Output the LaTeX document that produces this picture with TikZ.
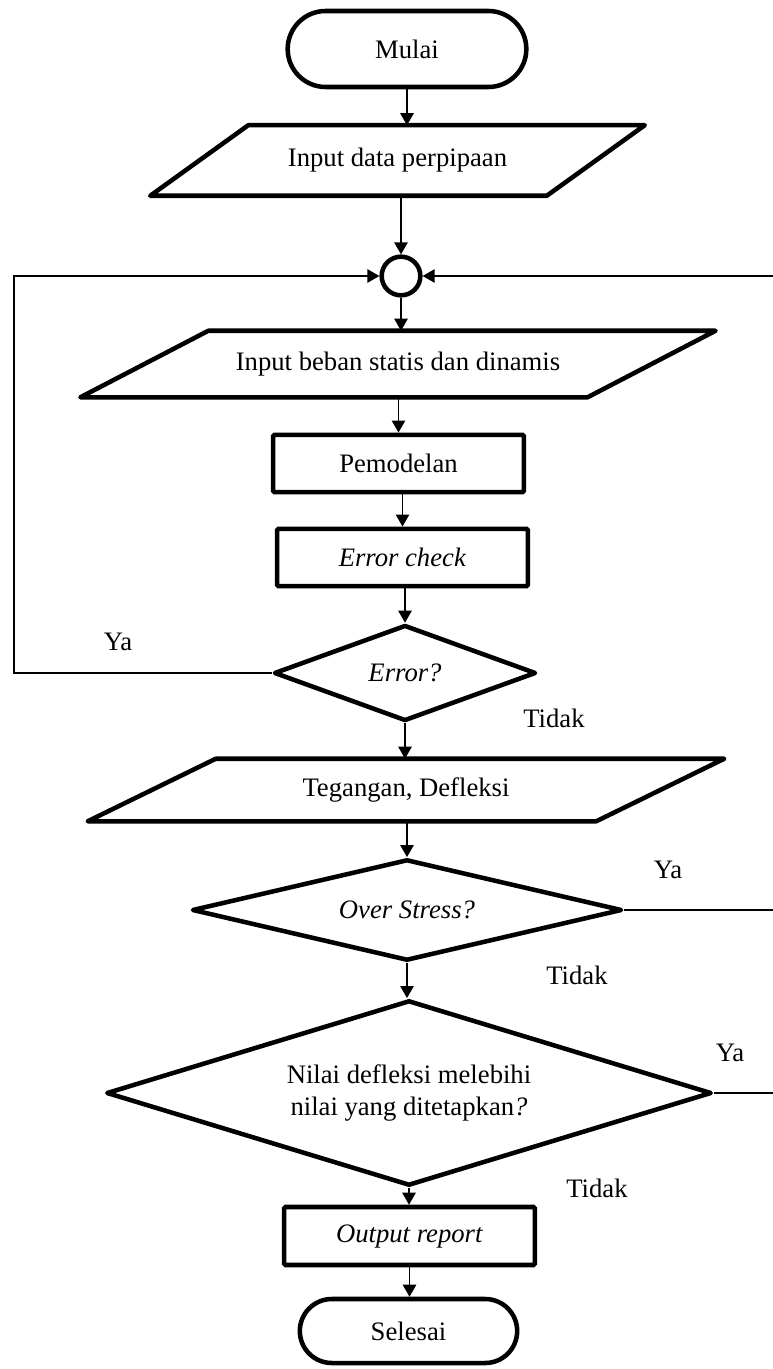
\documentclass[tikz,border=0pt]{standalone}
\usepackage{fontspec}
\setmainfont{Liberation Serif}
\usetikzlibrary{shapes.geometric,shapes.misc,arrows.meta,calc}

\begin{document}
\begin{tikzpicture}[x=0.75pt,y=-0.75pt,
  every node/.style={font=\fontsize{20}{24}\selectfont},
  term/.style={draw,line width=3.4pt,rounded rectangle,inner sep=0pt},
  proc/.style={draw,line width=3.4pt,rectangle,inner sep=0pt,rounded corners=1pt},
  dec/.style={draw,line width=3.4pt,diamond,inner sep=0pt,line join=round},
  io/.style={rectangle,inner sep=0pt},
  link/.style={line width=1.2pt},
  flow/.style={link,-{Triangle[length=9pt,width=10pt]}}]
\useasboundingbox (0,0) rectangle (773,1369);
%\draw[red] (0,0) rectangle (773,1369);
\node[term,minimum width=179pt,minimum height=57pt] (mulai) at (407,49) {Mulai};
\node[io,minimum width=297pt,minimum height=52.5pt] (in1) at (397.5,160.5) {Input data perpipaan};
\node[draw,circle,line width=3.4pt,minimum size=29pt,inner sep=0pt] (jn) at (401,276) {};
\node[io,minimum width=380pt,minimum height=49.5pt] (in2) at (398,364) {Input beban statis dan dinamis};
\node[proc,minimum width=188pt,minimum height=43pt] (pem) at (398.5,463.5) {Pemodelan};
\node[proc,minimum width=188pt,minimum height=43pt] (chk) at (402.5,557.5) {\textit{Error check}};
\node[dec,aspect=2.73,minimum width=196.5pt,minimum height=72pt] (err) at (405,673) {\textit{Error?}};
\node[io,minimum width=381pt,minimum height=46.5pt] (in3) at (406,790) {Tegangan, Defleksi};
\node[dec,aspect=4.26,minimum width=322.5pt,minimum height=76pt] (ovs) at (407,910) {\textit{Over Stress?}};
\node[dec,aspect=3.27,minimum width=454pt,minimum height=139pt,align=center] (nil) at (409,1093)
  {Nilai defleksi melebihi\\nilai yang ditetapkan\textit{?}};
\node[proc,minimum width=188pt,minimum height=43.5pt] (outp) at (409.5,1236) {\textit{Output report}};
\node[term,minimum width=163pt,minimum height=48pt] (selesai) at (408.5,1331) {Selesai};
% parallelogram outlines
\foreach \n/\s in {in1/49,in2/64,in3/64}
  \draw[line width=3.4pt,line join=round] ($(\n.north west)+(\s,0)$) -- ($(\n.north east)+(\s,0)$)
    -- ($(\n.south east)-(\s,0)$) -- ($(\n.south west)-(\s,0)$) -- cycle;
% main flow
\draw[flow] (mulai.south) -- (mulai.south |- in1.north);
\draw[flow] (in1.south -| jn) -- (jn.north);
\draw[flow] (jn.south) -- (jn.south |- in2.north);
\draw[flow] (in2.south -| pem) -- (pem.north);
\draw[flow] (pem.south -| chk) -- (chk.north);
\draw[flow] (chk.south -| err) -- (err.north);
\draw[flow] (err.south) -- (err.south |- in3.north);
\draw[flow] (in3.south -| ovs) -- (ovs.north);
\draw[flow] (ovs.south) -- (ovs.south |- nil.north);
\draw[flow] (nil.south) -- (nil.south |- outp.north);
\draw[flow] (outp.south) -- (outp.south |- selesai.north);
% loops back
\coordinate (lp) at (14,673);
\coordinate (rt0) at (773,276);
\coordinate (rt1) at (773,910);
\coordinate (rt2) at (773,1093);
\draw[flow] (err.west) -- (lp) |- (jn.west);
\draw[flow] (rt0) -- (jn.east);
\draw[link] (ovs.east) -- (rt1);
\draw[link] (nil.east) -- (rt2);
% labels
\node (ya1) at (118,642) {Ya};
\node (td1) at (554,718) {Tidak};
\node (ya2) at (668,870) {Ya};
\node (td2) at (577,975) {Tidak};
\node (ya3) at (730,1053) {Ya};
\node (td3) at (597,1188) {Tidak};
\end{tikzpicture}
\end{document}
